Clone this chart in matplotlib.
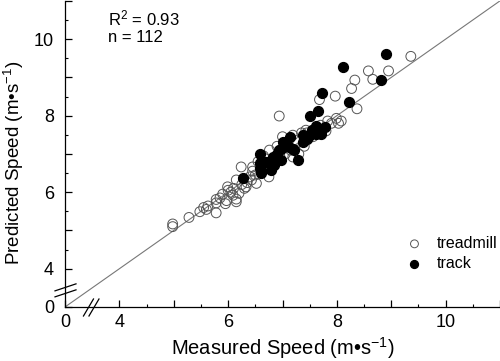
import matplotlib.pyplot as plt
from matplotlib.lines import Line2D

plt.rcParams['font.family'] = ['Liberation Sans', 'DejaVu Sans']
plt.rcParams['mathtext.fontset'] = 'custom'
plt.rcParams['mathtext.rm'] = 'Liberation Sans'
plt.rcParams['mathtext.it'] = 'Liberation Sans:italic'

# measured vs predicted speed (m/s)
treadmill_measured = [9.36, 8.58, 8.95, 8.66, 8.33, 8.27, 7.97, 7.68, 8.37, 6.94,
                      7.99, 8.08, 7.83, 7.43, 7.19, 7.56, 6.76, 7.19, 6.45, 4.98,
                      4.98, 5.28, 5.48, 5.63, 5.78, 5.78, 5.78, 5.99, 5.97, 6.15,
                      6.09, 6.15, 6.20, 6.30, 6.24, 7.56, 6.15, 6.33, 6.43, 6.52,
                      7.90, 7.70, 7.35, 7.25, 7.05, 6.95, 6.85, 6.70, 6.60, 6.50,
                      6.40, 6.35, 6.25, 6.05, 5.90, 5.85, 5.60, 5.55, 6.00, 6.45,
                      6.65, 6.90, 7.10, 7.00, 7.30, 7.45, 7.60, 7.15, 6.80, 6.55,
                      6.10, 5.95, 7.80, 7.40, 6.75, 8.03]
treadmill_predicted = [9.55, 9.17, 9.17, 8.95, 8.93, 8.71, 8.51, 8.42, 8.18, 7.99,
                       7.93, 7.86, 7.86, 7.62, 7.49, 7.45, 7.10, 6.92, 6.66, 5.17,
                       5.10, 5.34, 5.49, 5.64, 5.81, 5.72, 5.46, 6.14, 5.78, 5.82,
                       5.92, 5.75, 5.97, 6.10, 6.66, 7.62, 6.32, 6.14, 6.32, 6.23,
                       7.80, 7.75, 7.55, 7.35, 7.00, 6.95, 6.85, 6.70, 6.55, 6.45,
                       6.40, 6.25, 6.20, 6.00, 5.95, 5.85, 5.55, 5.60, 6.05, 6.55,
                       6.95, 7.20, 7.30, 7.45, 7.00, 7.55, 7.60, 7.10, 6.60, 6.80,
                       6.10, 5.70, 7.60, 7.20, 6.40, 7.80]

track_measured = [8.91, 8.11, 8.81, 7.73, 8.22, 7.66, 7.50, 7.61, 7.79, 7.14,
                  7.37, 7.37, 7.62, 7.71, 7.01, 6.98, 7.12, 7.19, 7.28, 6.98,
                  6.82, 6.58, 6.58, 6.79, 6.61, 6.85, 6.27, 6.58, 7.07, 7.22,
                  6.94, 7.45, 6.70, 6.90, 7.55, 7.48]
track_predicted = [9.62, 9.26, 8.93, 8.58, 8.36, 8.12, 7.99, 7.74, 7.71, 7.45,
                   7.49, 7.32, 7.53, 7.53, 7.32, 7.14, 7.19, 7.14, 6.84, 6.84,
                   6.92, 6.99, 6.75, 6.58, 6.49, 6.71, 6.36, 6.62, 7.20, 7.10,
                   7.10, 7.40, 6.80, 7.00, 7.62, 7.47]

r2_text = "R$^2$ = 0.93"
n_text = "n = 112"

# axis is broken: position 3 is labelled 0
lo, hi = 3, 11
tick_pos = [3, 4, 5, 6, 7, 8, 9, 10, 11]
tick_lab = ['0', '4', '', '6', '', '8', '', '10', '']

fig = plt.figure(figsize=(5.0, 3.61), dpi=100)
ax = fig.add_axes([0.13, 0.1496, 0.87, 0.848])

ax.plot([lo, hi], [lo, hi], color='#777777', lw=0.8, zorder=1)
ax.scatter(treadmill_measured, treadmill_predicted, s=50, facecolors='none',
           edgecolors='#555555', linewidths=0.7, label='treadmill', zorder=2)
ax.scatter(track_measured, track_predicted, s=50, color='black',
           label='track', zorder=3)

ax.set_xlim(lo, hi)
ax.set_ylim(lo, hi)
ax.set_xticks(tick_pos)
ax.set_xticklabels(tick_lab)
ax.set_yticks(tick_pos)
ax.set_yticklabels(tick_lab)
ax.set_xticks([v + 0.5 for v in range(4, 11)], minor=True)
ax.set_yticks([v + 0.5 for v in range(4, 11)], minor=True)
ax.tick_params(which='major', direction='in', length=5, width=0.9, labelsize=13)
ax.tick_params(axis='y', which='major', pad=8)
ax.tick_params(axis='x', which='major', pad=5)
ax.tick_params(which='minor', direction='in', length=2.5, width=0.8)
for s in ['top', 'right']:
    ax.spines[s].set_visible(False)
for s in ['left', 'bottom']:
    ax.spines[s].set_linewidth(0.9)

ax.set_xlabel('Measured Speed (m•s$^{-1}$)', fontsize=14.5, labelpad=3)
ax.set_ylabel('Predicted Speed (m•s$^{-1}$)', fontsize=13.5, labelpad=6)
ax.yaxis.set_label_coords(-0.09, 0.47)

ax.text(0.099, 0.975, r2_text, transform=ax.transAxes, fontsize=12, va='top')
ax.text(0.099, 0.905, n_text, transform=ax.transAxes, fontsize=12, va='top')

ax.legend(loc='center left', bbox_to_anchor=(0.785, 0.175), frameon=False,
          fontsize=11.5, handlelength=1.0, handletextpad=0.9, borderpad=0,
          borderaxespad=0, labelspacing=0.3, markerscale=0.8)

# break marks (drawn in pixels around the break positions)
fig.canvas.draw()
bx, by = ax.transData.transform((3.45, 3.0))
cx, cy = ax.transData.transform((3.0, 3.5))
H = fig.get_figheight() * fig.dpi
for dx in (0, 5.5):
    fig.add_artist(Line2D([(bx - 6 + dx) / 500, (bx + 4 + dx) / 500],
                          [(by - 9) / H, (by + 8) / H],
                          transform=fig.transFigure, color='black', lw=0.9))
for dy in (0, -6):
    fig.add_artist(Line2D([(cx - 10) / 500, (cx + 11) / 500],
                          [(cy - 3 + dy) / H, (cy + 4 + dy) / H],
                          transform=fig.transFigure, color='black', lw=0.9))

fig.savefig('out.png', dpi=100)
